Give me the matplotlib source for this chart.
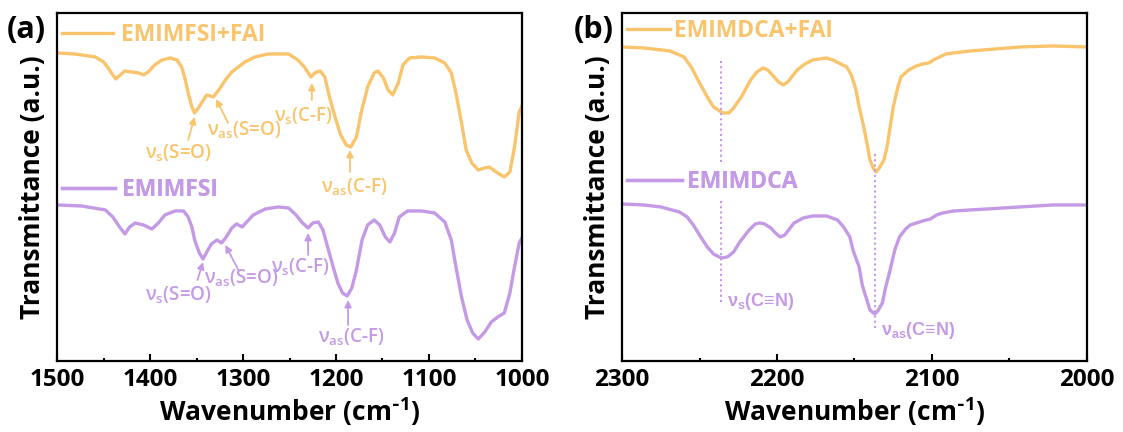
import numpy as np
import matplotlib
matplotlib.use("Agg")
import matplotlib.pyplot as plt
from matplotlib.ticker import MultipleLocator, NullLocator

plt.rcParams['font.family'] = ['Open Sans', 'DejaVu Sans']
plt.rcParams['font.weight'] = 'bold'
plt.rcParams['mathtext.default'] = 'regular'

orange = '#F9C46B'
purple = '#C49AE6'

# panel (a): EMIMFSI systems, wavenumber (cm-1) and transmittance (a.u.)
wn_fsi_fai = [1500, 1481, 1459, 1450, 1445, 1440, 1437, 1432, 1427, 1420, 1412, 1407,
              1402, 1395, 1387, 1378, 1371, 1366, 1362, 1359, 1355, 1352, 1348, 1344,
              1339, 1335, 1332, 1326, 1319, 1312, 1305, 1298, 1287, 1273, 1251, 1241,
              1234, 1227, 1223, 1217, 1212, 1207, 1201, 1195, 1189, 1184, 1178, 1173,
              1166, 1159, 1155, 1149, 1144, 1139, 1133, 1128, 1121, 1108, 1094, 1083,
              1076, 1071, 1065, 1060, 1054, 1047, 1040, 1035, 1028, 1019, 1013, 1008,
              1003, 1000]
t_fsi_fai = [3.08, 3.07, 3.04, 2.99, 2.93, 2.86, 2.82, 2.86, 2.90, 2.89, 2.88, 2.86,
             2.89, 2.96, 3.01, 3.03, 3.01, 2.94, 2.81, 2.68, 2.54, 2.48, 2.53, 2.59,
             2.66, 2.65, 2.64, 2.71, 2.81, 2.89, 2.94, 2.99, 3.04, 3.07, 3.07, 3.01,
             2.94, 2.84, 2.88, 2.90, 2.84, 2.64, 2.44, 2.26, 2.16, 2.14, 2.24, 2.48,
             2.74, 2.88, 2.90, 2.83, 2.71, 2.66, 2.78, 2.96, 3.03, 3.04, 3.03, 2.98,
             2.88, 2.68, 2.38, 2.11, 1.98, 1.91, 1.93, 1.94, 1.89, 1.84, 1.89, 2.14,
             2.49, 2.55]

wn_fsi = [1500, 1474, 1448, 1440, 1432, 1427, 1422, 1416, 1407, 1398, 1391, 1384,
          1373, 1364, 1359, 1355, 1352, 1347, 1343, 1339, 1334, 1328, 1323, 1318,
          1312, 1307, 1301, 1296, 1289, 1276, 1262, 1251, 1243, 1236, 1230, 1225,
          1219, 1214, 1209, 1203, 1198, 1193, 1188, 1183, 1178, 1172, 1166, 1159,
          1153, 1147, 1142, 1137, 1132, 1123, 1108, 1094, 1083, 1076, 1071, 1065,
          1059, 1053, 1047, 1040, 1033, 1026, 1019, 1013, 1008, 1003, 1000]
t_fsi = [1.56, 1.55, 1.51, 1.44, 1.33, 1.27, 1.34, 1.38, 1.36, 1.32, 1.38, 1.46,
         1.50, 1.50, 1.44, 1.34, 1.21, 1.08, 1.02, 1.09, 1.17, 1.21, 1.18, 1.24,
         1.33, 1.37, 1.34, 1.39, 1.46, 1.52, 1.54, 1.53, 1.46, 1.38, 1.33, 1.38,
         1.39, 1.31, 1.14, 0.94, 0.78, 0.68, 0.65, 0.73, 0.91, 1.21, 1.36, 1.41,
         1.36, 1.24, 1.19, 1.28, 1.44, 1.50, 1.50, 1.48, 1.39, 1.21, 0.94, 0.64,
         0.41, 0.28, 0.22, 0.29, 0.39, 0.44, 0.48, 0.68, 0.94, 1.18, 1.23]

# panel (b): EMIMDCA systems
wn_dca_fai = [2300, 2286, 2269, 2260, 2255, 2250, 2245, 2241, 2235, 2231, 2228, 2223,
              2217, 2213, 2209, 2206, 2203, 2199, 2196, 2193, 2187, 2182, 2177, 2168,
              2164, 2155, 2152, 2149, 2147, 2144, 2142, 2140, 2138, 2136, 2134, 2131,
              2129, 2127, 2125, 2122, 2120, 2115, 2110, 2106, 2102, 2099, 2095, 2091,
              2086, 2075, 2043, 2022, 2000]
t_dca_fai = [3.14, 3.13, 3.10, 3.04, 2.93, 2.78, 2.64, 2.54, 2.48, 2.48, 2.53, 2.64,
             2.81, 2.89, 2.93, 2.91, 2.86, 2.79, 2.76, 2.79, 2.91, 2.97, 3.01, 3.03,
             3.01, 2.94, 2.86, 2.71, 2.54, 2.34, 2.18, 2.01, 1.93, 1.89, 1.93, 2.01,
             2.14, 2.34, 2.54, 2.74, 2.84, 2.91, 2.95, 2.97, 2.98, 3.01, 3.04, 3.07,
             3.08, 3.10, 3.14, 3.15, 3.14]

wn_dca = [2300, 2286, 2275, 2263, 2258, 2254, 2250, 2245, 2241, 2236, 2232, 2228,
          2224, 2218, 2214, 2211, 2208, 2204, 2201, 2198, 2195, 2189, 2183, 2177,
          2168, 2161, 2157, 2153, 2151, 2147, 2145, 2142, 2140, 2137, 2135, 2132,
          2130, 2127, 2124, 2121, 2117, 2114, 2110, 2106, 2101, 2097, 2093, 2086,
          2054, 2022, 2000]
t_dca = [1.57, 1.56, 1.54, 1.49, 1.44, 1.36, 1.26, 1.14, 1.07, 1.03, 1.04, 1.09,
         1.19, 1.31, 1.37, 1.38, 1.37, 1.33, 1.28, 1.24, 1.26, 1.38, 1.43, 1.45,
         1.45, 1.41, 1.34, 1.24, 1.11, 0.94, 0.76, 0.61, 0.51, 0.47, 0.50, 0.58,
         0.73, 0.91, 1.11, 1.24, 1.32, 1.36, 1.38, 1.40, 1.42, 1.46, 1.48, 1.50,
         1.53, 1.56, 1.56]

# labelled bands in (a): text, text position, arrow tail, arrow tip
bands_a_fai = [
    ('ν$_{s}$(S=O)', (1370, 2.08), (1359, 2.21), (1352, 2.44)),
    ('ν$_{as}$(S=O)', (1299, 2.31), (1316, 2.38), (1329, 2.62)),
    ('ν$_{s}$(C-F)', (1235, 2.45), (1226, 2.61), (1226, 2.78)),
    ('ν$_{as}$(C-F)', (1180, 1.74), (1185, 1.89), (1185, 2.11)),
]
bands_a = [
    ('ν$_{s}$(S=O)', (1370, 0.66), (1349, 0.81), (1343, 0.99)),
    ('ν$_{as}$(S=O)', (1302, 0.83), (1305, 0.91), (1319, 1.16)),
    ('ν$_{s}$(C-F)', (1238, 0.94), (1230, 1.06), (1230, 1.28)),
    ('ν$_{as}$(C-F)', (1184, 0.24), (1187, 0.36), (1187, 0.61)),
]

fig = plt.figure(figsize=(11.23, 4.32), dpi=100)
ax1 = fig.add_axes([0.0508, 0.1644, 0.414, 0.8056])
ax2 = fig.add_axes([0.5539, 0.1644, 0.414, 0.8056])

lw = 2.4
l1, = ax1.plot(wn_fsi_fai, t_fsi_fai, color=orange, lw=lw, label='EMIMFSI+FAI')
l2, = ax1.plot(wn_fsi, t_fsi, color=purple, lw=lw, label='EMIMFSI')
l3, = ax2.plot(wn_dca_fai, t_dca_fai, color=orange, lw=lw, label='EMIMDCA+FAI')
l4, = ax2.plot(wn_dca, t_dca, color=purple, lw=lw, label='EMIMDCA')

for bands, col in ((bands_a_fai, orange), (bands_a, purple)):
    for txt, tpos, tail, tip in bands:
        ax1.annotate('', xy=tip, xytext=tail,
                     arrowprops=dict(arrowstyle='-|>', color=col, lw=1.3,
                                     mutation_scale=10, shrinkA=0, shrinkB=0))
        ax1.text(tpos[0], tpos[1], txt, color=col, fontsize=13.5,
                 fontweight='semibold', ha='center', va='center')

# dotted guide lines in (b)
dots = (0, (1, 1.5))
ax2.vlines(2236, 1.99, 3.03, colors=purple, linestyles=dots, lw=1.5)
ax2.vlines(2236, 0.59, 1.63, colors=purple, linestyles=dots, lw=1.5)
ax2.vlines(2137, 0.33, 2.09, colors=purple, linestyles=dots, lw=1.5)
lib = ['Liberation Sans', 'DejaVu Sans']
ax2.text(2232, 0.59, 'ν$_{s}$(C≡N)', color=purple, fontsize=13, family=lib,
         fontweight='bold', ha='left', va='center')
ax2.text(2133, 0.30, 'ν$_{as}$(C≡N)', color=purple, fontsize=13, family=lib,
         fontweight='bold', ha='left', va='center')

for ax, lo, hi in ((ax1, 1500, 1000), (ax2, 2300, 2000)):
    ax.set_xlim(lo, hi)
    ax.set_ylim(0, 3.48)
    ax.xaxis.set_major_locator(MultipleLocator(100))
    ax.xaxis.set_minor_locator(MultipleLocator(50))
    ax.yaxis.set_major_locator(NullLocator())
    ax.tick_params(axis='x', which='major', direction='in', length=5, width=1.5,
                   labelsize=17.5, pad=5)
    ax.tick_params(axis='x', which='minor', direction='in', length=2.5, width=1.5)
    for s in ax.spines.values():
        s.set_linewidth(1.6)
    for lab in ax.get_xticklabels():
        lab.set_fontweight('bold')
    ax.set_xlabel(r'Wavenumber (cm$^{\text{-}1}$)', fontsize=19, fontweight='bold',
                  labelpad=2)
    ax.set_ylabel('Transmittance (a.u.)', fontsize=19, fontweight='bold', labelpad=8)


def add_leg(ax, line, anchor, hlen, pad):
    leg = ax.legend(handles=[line], loc='center left', bbox_to_anchor=anchor,
                    frameon=False, borderpad=0, borderaxespad=0, handlelength=hlen,
                    handletextpad=pad, labelcolor='linecolor',
                    prop={'size': 16.5, 'weight': 'bold'})
    ax.add_artist(leg)


add_leg(ax1, l1, (0.011, 0.938), 2.2, 0.35)
add_leg(ax1, l2, (0.011, 0.492), 2.3, 0.3)
add_leg(ax2, l3, (0.011, 0.949), 1.85, 0.2)
add_leg(ax2, l4, (0.011, 0.514), 2.4, 0.2)

fig.text(0.006, 0.93, '(a)', fontsize=22, fontweight='bold', va='center')
fig.text(0.511, 0.93, '(b)', fontsize=22, fontweight='bold', va='center')

fig.savefig('out.png', dpi=100)
